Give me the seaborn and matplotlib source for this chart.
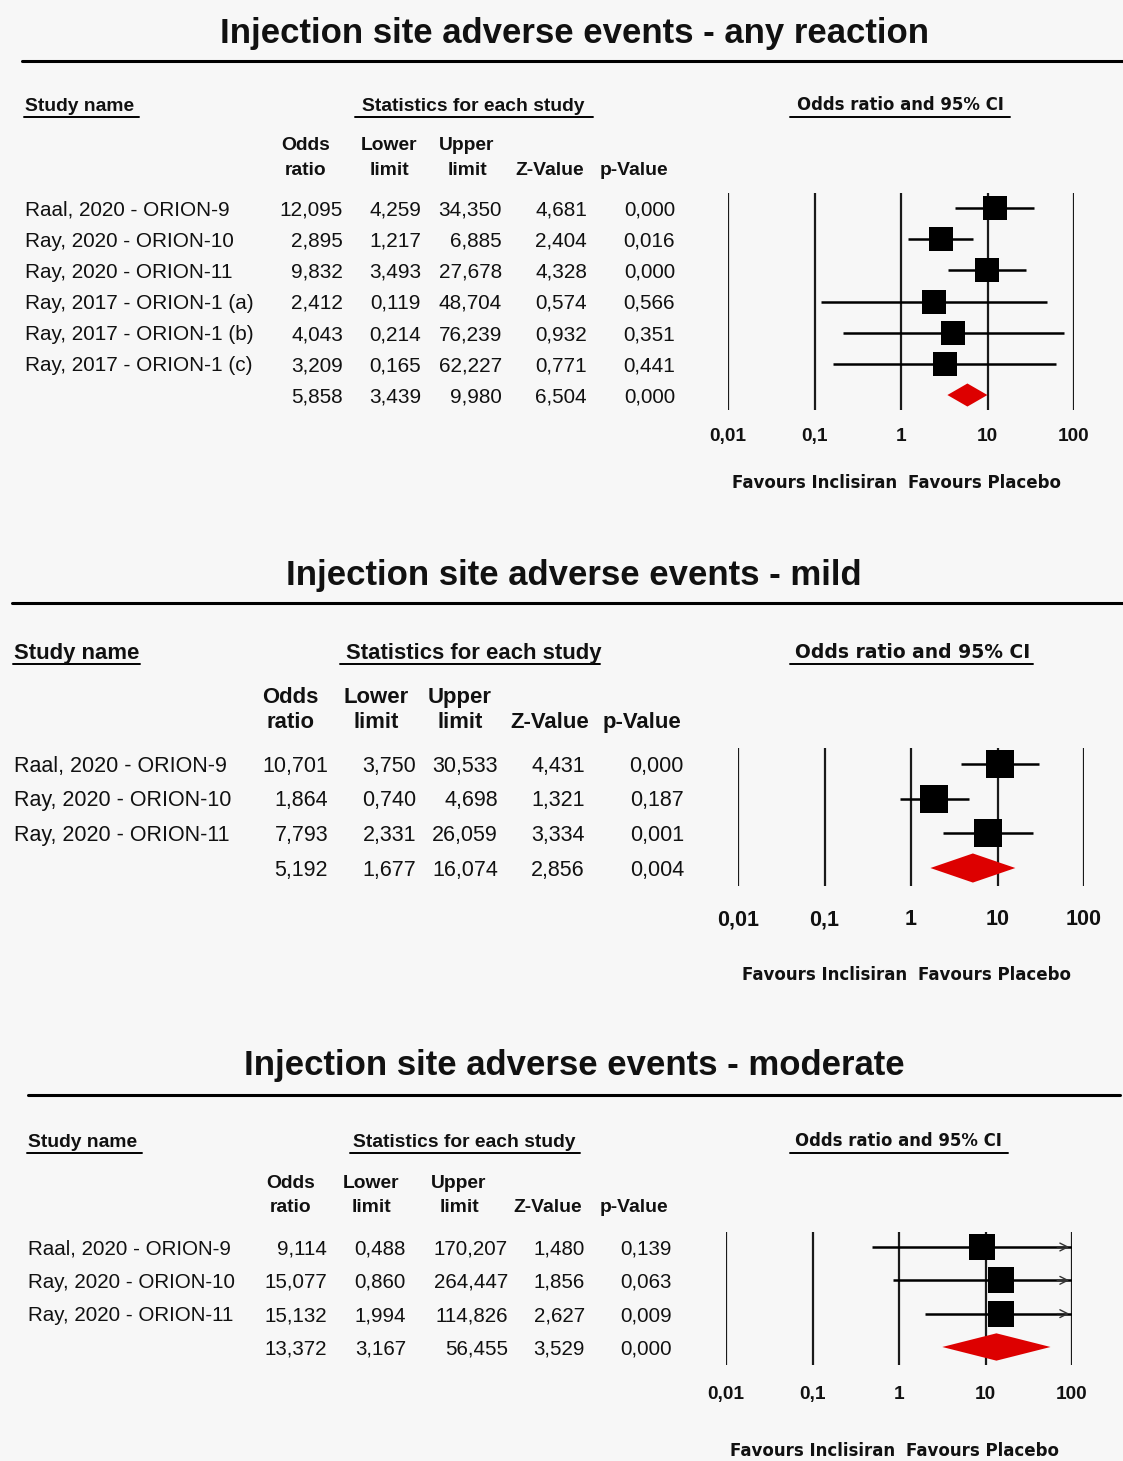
import numpy as np
import pandas as pd
import matplotlib
matplotlib.use("Agg")
import matplotlib.pyplot as plt
from matplotlib import font_manager
from matplotlib.lines import Line2D
from matplotlib.ticker import NullLocator
import seaborn as sns

# ---- data (last entry = pooled estimate) ----
titles = ["Injection site adverse events - any reaction",
          "Injection site adverse events - mild",
          "Injection site adverse events - moderate"]

names_any = ["Raal, 2020 - ORION-9", "Ray, 2020 - ORION-10", "Ray, 2020 - ORION-11",
             "Ray, 2017 - ORION-1 (a)", "Ray, 2017 - ORION-1 (b)", "Ray, 2017 - ORION-1 (c)", ""]
or_any = [12.095, 2.895, 9.832, 2.412, 4.043, 3.209, 5.858]
lo_any = [4.259, 1.217, 3.493, 0.119, 0.214, 0.165, 3.439]
hi_any = [34.350, 6.885, 27.678, 48.704, 76.239, 62.227, 9.980]
z_any = [4.681, 2.404, 4.328, 0.574, 0.932, 0.771, 6.504]
p_any = [0.000, 0.016, 0.000, 0.566, 0.351, 0.441, 0.000]

names_mild = ["Raal, 2020 - ORION-9", "Ray, 2020 - ORION-10", "Ray, 2020 - ORION-11", ""]
or_mild = [10.701, 1.864, 7.793, 5.192]
lo_mild = [3.750, 0.740, 2.331, 1.677]
hi_mild = [30.533, 4.698, 26.059, 16.074]
z_mild = [4.431, 1.321, 3.334, 2.856]
p_mild = [0.000, 0.187, 0.001, 0.004]

names_mod = ["Raal, 2020 - ORION-9", "Ray, 2020 - ORION-10", "Ray, 2020 - ORION-11", ""]
or_mod = [9.114, 15.077, 15.132, 13.372]
lo_mod = [0.488, 0.860, 1.994, 3.167]
hi_mod = [170.207, 264.447, 114.826, 56.455]
z_mod = [1.480, 1.856, 2.627, 3.529]
p_mod = [0.139, 0.063, 0.009, 0.000]

tick_vals = [0.01, 0.1, 1, 10, 100]
tick_labels = ["0,01", "0,1", "1", "10", "100"]
col_heads = [("Odds", "ratio"), ("Lower", "limit"), ("Upper", "limit"), ("", "Z-Value"), ("", "p-Value")]

# ---- layout (pixel positions in a 1123 x 1461 canvas) ----
W, H = 1123, 1461
layouts = [
    dict(title_y=30, rule=(22, 1123, 61), sec_y=104, ul_y=117, study=(25, 139), stats=(362, 355, 593),
         orci=(797, 790, 1010), hdr_y=(143, 168), hdr_x=[306, 389, 467, 550, 634],
         col_r=[343, 421, 502, 587, 675], row0=208, dy=31.17, ax_x=(728, 1074), ax_y=(193, 410),
         tick_y=435, fav_y=482, body=17.8, body_narrow=True, head=16.5, orci_fs=11.9, tick_fs=13.7,
         sq=310, dh=0.37),
    dict(title_y=572, rule=(12, 1123, 603), sec_y=651, ul_y=664, study=(14, 140), stats=(346, 340, 600),
         orci=(795, 790, 1033), hdr_y=(695, 720), hdr_x=[290, 376, 460, 550, 642],
         col_r=[328, 416, 498, 585, 684], row0=764, dy=34.67, ax_x=(738, 1084), ax_y=(748, 886),
         tick_y=917, fav_y=974, body=15.5, body_narrow=False, head=19, orci_fs=13.5, tick_fs=15.5,
         sq=380, dh=0.42),
    dict(title_y=1062, rule=(28, 1120, 1095), sec_y=1140, ul_y=1153, study=(28, 142), stats=(353, 350, 580),
         orci=(795, 790, 1008), hdr_y=(1181, 1205), hdr_x=[291, 371, 459, 548, 634],
         col_r=[327, 406, 508, 585, 672], row0=1247, dy=33.33, ax_x=(726, 1072), ax_y=(1232, 1365),
         tick_y=1393, fav_y=1450, body=17.6, body_narrow=True, head=16.5, orci_fs=11.9, tick_fs=13.7,
         sq=350, dh=0.41),
]

sns.set_theme(style="white")
plt.rcParams["font.family"] = ["Liberation Sans", "DejaVu Sans"]

available = {f.name for f in font_manager.fontManager.ttflist}
HAS_NARROW = "Liberation Sans Narrow" in available

BG = "#f7f7f7"
fig = plt.figure(figsize=(W / 100, H / 100), dpi=100, facecolor=BG)


def fx(x):
    return x / W


def fy(y):
    return 1 - y / H


def txt(x, y, s, size, bold=False, narrow=False, ha="left", family=None, color="#111111"):
    # y is the visual centre of the capitals
    if family is None:
        if narrow and HAS_NARROW:
            family = "Liberation Sans Narrow"
        else:
            family = "Liberation Sans"
            if narrow:
                size = size * 0.84
    cap = 0.72 * size * 100 / 72
    fig.text(fx(x), fy(y + cap / 2), s, ha=ha, va="baseline", fontsize=size,
             fontweight="bold" if bold else "normal", family=family, color=color)


def hline(x0, x1, y, lw):
    fig.add_artist(Line2D([fx(x0), fx(x1)], [fy(y), fy(y)], color="black", lw=lw))


def fmt(v):
    return f"{v:.3f}".replace(".", ",")


panels = [
    (names_any, or_any, lo_any, hi_any, z_any, p_any),
    (names_mild, or_mild, lo_mild, hi_mild, z_mild, p_mild),
    (names_mod, or_mod, lo_mod, hi_mod, z_mod, p_mod),
]

for title, (names, ors, los, his, zs, ps), L in zip(titles, panels, layouts):
    # title and rule
    txt(574, L["title_y"], title, 25, bold=True, ha="center")
    hline(L["rule"][0], L["rule"][1], L["rule"][2], 2.2)

    # section heads with underlines
    txt(L["study"][0], L["sec_y"], "Study name", L["head"], bold=True, narrow=True)
    hline(L["study"][0] - 1, L["study"][1], L["ul_y"], 1.4)
    txt(L["stats"][0], L["sec_y"], "Statistics for each study", L["head"], bold=True, narrow=True)
    hline(L["stats"][1], L["stats"][2], L["ul_y"], 1.4)
    txt(L["orci"][0], L["sec_y"], "Odds ratio and 95% CI", L["orci_fs"], bold=True, family="DejaVu Sans")
    hline(L["orci"][1], L["orci"][2], L["ul_y"], 1.4)

    # column heads
    for (top, bot), xc in zip(col_heads, L["hdr_x"]):
        if top:
            txt(xc, L["hdr_y"][0], top, L["head"], bold=True, narrow=True, ha="center")
        txt(xc, L["hdr_y"][1], bot, L["head"], bold=True, narrow=True, ha="center")

    # table rows
    n = len(names)
    rows = np.arange(n)
    for i in rows:
        yy = L["row0"] + i * L["dy"]
        if names[i]:
            txt(L["study"][0], yy, names[i], L["body"], narrow=L["body_narrow"])
        for v, xr in zip([ors[i], los[i], his[i], zs[i], ps[i]], L["col_r"]):
            txt(xr, yy, fmt(v), L["body"], narrow=L["body_narrow"], ha="right")

    # forest plot axes
    x0, x1 = L["ax_x"]
    yt, yb = L["ax_y"]
    ax = fig.add_axes([fx(x0), fy(yb), (x1 - x0) / W, (yb - yt) / H])
    ax.set_facecolor("none")
    ax.set_xscale("log")
    ax.set_xlim(0.01, 100)
    ax.set_ylim((n - 1) + (yb - (L["row0"] + (n - 1) * L["dy"])) / L["dy"],
                -(L["row0"] - yt) / L["dy"])
    for sp in ax.spines.values():
        sp.set_visible(False)
    ax.grid(False)
    ax.set_yticks([])
    ax.xaxis.set_minor_locator(NullLocator())
    ax.set_xticks(tick_vals)
    ax.set_xticklabels(tick_labels)
    cap = 0.716 * L["tick_fs"] * 100 / 72
    pad_px = L["tick_y"] - cap / 2 - yb
    ax.tick_params(axis="x", length=0, pad=pad_px * 72 / 100, labelsize=L["tick_fs"], colors="#111111")
    for lab in ax.get_xticklabels():
        lab.set_fontweight("bold")
        lab.set_family("Liberation Sans")

    for t in tick_vals:
        ax.axvline(t, color="#1a1a1a", lw=1.6, zorder=1)

    study = pd.DataFrame({"or": ors[:-1], "lo": los[:-1], "hi": his[:-1], "row": rows[:-1]})
    ax.hlines(study["row"], study["lo"], np.minimum(study["hi"], 100), color="black", lw=1.8, zorder=2)
    for _, r in study[study["hi"] > 100].iterrows():
        ax.annotate("", xy=(100, r["row"]), xytext=(100 / 1.6, r["row"]),
                    arrowprops=dict(arrowstyle="->", color="#333333", lw=1.0, mutation_scale=14),
                    zorder=2)
    sns.scatterplot(data=study, x="or", y="row", marker="s", s=L["sq"], color="black",
                    linewidth=0, legend=False, ax=ax, zorder=3)
    ax.set_xlabel("")
    ax.set_ylabel("")

    # pooled diamond
    r = rows[-1]
    h = L["dh"]
    ax.fill([los[-1], ors[-1], his[-1], ors[-1]], [r, r - h, r, r + h],
            color="#dd0000", lw=0, zorder=3)

    # favours labels
    one_x = x0 + (x1 - x0) / 2
    txt(one_x - 4, L["fav_y"], "Favours Inclisiran", 12, bold=True, ha="right", family="DejaVu Sans")
    txt(one_x + 7, L["fav_y"], "Favours Placebo", 12, bold=True, ha="left", family="DejaVu Sans")

fig.savefig("out.png", dpi=100, facecolor=BG)
